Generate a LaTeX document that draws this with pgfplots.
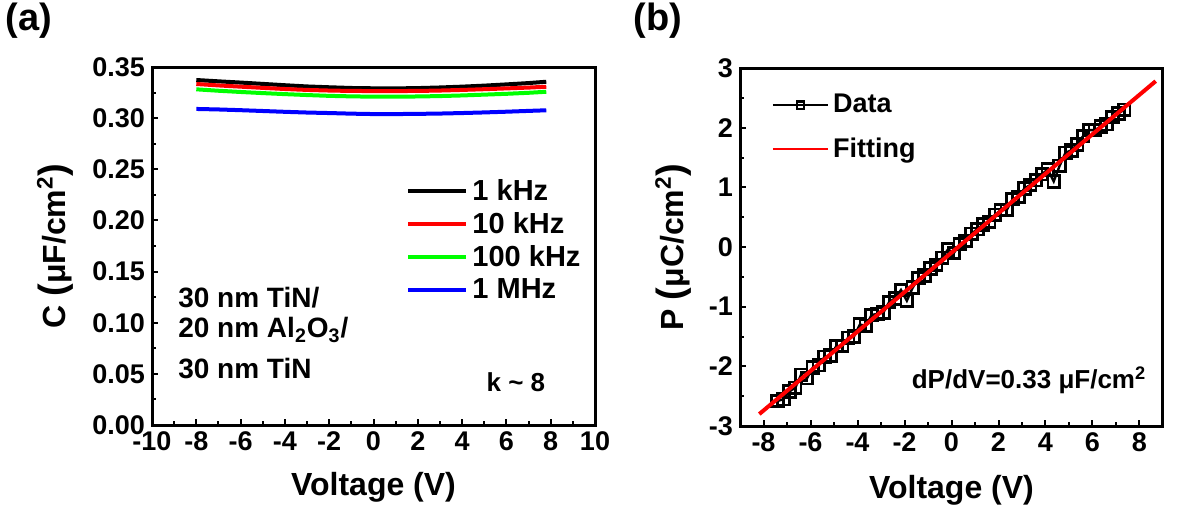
\documentclass[border=0pt]{standalone}
\usepackage{fontspec}
\setmainfont{Liberation Sans}
\usepackage{pgfplots}
\pgfplotsset{compat=1.18}

\pgfplotsset{
  panel/.style={
    scale only axis,
    axis line style={line width=1.5pt},
    tick align=inside,
    xtick pos=bottom, ytick pos=left,
    major tick length=3pt, minor tick length=2pt,
    tick style={line width=1pt, black},
    tick label style={font=\fontsize{13.5}{15}\selectfont\bfseries},
    /pgf/number format/assume math mode=true,
    label style={font=\fontsize{16}{18}\selectfont\bfseries},
    legend cell align=left,
  },
  datalegend/.style={legend image code/.code={\draw[##1, mark repeat=2, mark phase=2, mark options={scale=0.65}]
    plot coordinates {(0pt,0pt) (13.75pt,0pt) (27.5pt,0pt)};}},
  fitlegend/.style={legend image code/.code={\draw[red, line width=0.8pt] (0pt,0pt) -- (27.5pt,0pt);}},
  linelegend/.style={legend image code/.code={\draw[##1] (0pt,0pt) -- (29pt,0pt);}},
}

\begin{document}
\begin{tikzpicture}
\path[use as bounding box] (0pt,0pt) rectangle (593.5pt,-255pt);

\node[font=\fontsize{19}{21}\selectfont\bfseries] at (14.5pt,-10.5pt) {(a)};
\node[font=\fontsize{19}{21}\selectfont\bfseries] at (329pt,-10.5pt) {(b)};

% (a) capacitance vs voltage
\begin{axis}[panel, linelegend,
  at={(76pt,-212.5pt)}, anchor=south west,
  width=221.5pt, height=179pt,
  xmin=-10, xmax=10, ymin=0, ymax=0.35,
  xtick={-10,-8,...,10}, minor x tick num=1,
  ytick={0,0.05,...,0.351}, minor y tick num=1,
  yticklabel style={/pgf/number format/.cd, fixed, fixed zerofill, precision=2},
  xlabel={Voltage (V)},
  ylabel={C {\fontsize{19}{19}\selectfont(}μF/cm\textsuperscript{2}{\fontsize{19}{19}\selectfont)}},
  xlabel style={at={(axis description cs:0.5,-0.173)}, anchor=center},
  ylabel style={at={(axis description cs:-0.219,0.5)}, anchor=center},
  legend style={draw=none, fill=none, at={(0.56,0.71)}, anchor=north west,
    font=\fontsize{14.5}{16}\selectfont\bfseries, row sep=0.5pt},
]
\addplot[black, line width=2pt] coordinates {
  (-8,0.3373) (-7,0.3360) (-6,0.3348) (-5,0.3335) (-4,0.3322) (-3,0.3310)
  (-2,0.3302) (-1,0.3295) (0,0.3292) (1,0.3291) (2,0.3294) (3,0.3300)
  (4,0.3308) (5,0.3318) (6,0.3330) (7,0.3343) (7.8,0.3356)};
\addlegendentry{1 kHz}
\addplot[red, line width=2pt] coordinates {
  (-8,0.3334) (-7,0.3320) (-6,0.3308) (-5,0.3296) (-4,0.3285) (-3,0.3276)
  (-2,0.3270) (-1,0.3266) (0,0.3265) (1,0.3265) (2,0.3266) (3,0.3270)
  (4,0.3276) (5,0.3283) (6,0.3291) (7,0.3299) (7.8,0.3307)};
\addlegendentry{10 kHz}
\addplot[green, line width=2pt] coordinates {
  (-8,0.3282) (-7,0.3268) (-6,0.3256) (-5,0.3245) (-4,0.3235) (-3,0.3226)
  (-2,0.3218) (-1,0.3213) (0,0.3210) (1,0.3210) (2,0.3212) (3,0.3216)
  (4,0.3222) (5,0.3230) (6,0.3238) (7,0.3248) (7.8,0.3258)};
\addlegendentry{100 kHz}
\addplot[blue, line width=2pt] coordinates {
  (-8,0.3090) (-7,0.3085) (-6,0.3078) (-5,0.3070) (-4,0.3062) (-3,0.3055)
  (-2,0.3050) (-1,0.3044) (0,0.3040) (1,0.3040) (2,0.3042) (3,0.3045)
  (4,0.3050) (5,0.3056) (6,0.3063) (7,0.3071) (7.8,0.3077)};
\addlegendentry{1 MHz}

\node[anchor=west, inner sep=0pt, font=\fontsize{14}{15}\selectfont\bfseries] at (axis cs:-8.83,0.125) {30 nm TiN/};
\node[anchor=west, inner sep=0pt, font=\fontsize{14}{15}\selectfont\bfseries] at (axis cs:-8.83,0.0929) {20 nm Al\textsubscript{2}O\textsubscript{3}/};
\node[anchor=west, inner sep=0pt, font=\fontsize{14}{15}\selectfont\bfseries] at (axis cs:-8.83,0.0557) {30 nm TiN};
\node[font=\fontsize{13}{14}\selectfont\bfseries] at (axis cs:6.43,0.042) {k \textasciitilde{} 8};
\end{axis}

% (b) polarization vs voltage
\begin{axis}[panel,
  at={(370pt,-213pt)}, anchor=south west,
  width=211.5pt, height=179pt,
  xmin=-9, xmax=9, ymin=-3, ymax=3,
  clip marker paths=true,
  xtick={-8,-6,...,8}, minor x tick num=1,
  ytick={-3,-2,...,3}, minor y tick num=1,
  xlabel={Voltage (V)},
  ylabel={P {\fontsize{19}{19}\selectfont(}μC/cm\textsuperscript{2}{\fontsize{19}{19}\selectfont)}},
  xlabel style={at={(axis description cs:0.5,-0.179)}, anchor=center},
  ylabel style={at={(axis description cs:-0.158,0.5)}, anchor=center},
  legend style={draw=none, fill=none, at={(0.06,0.95)}, anchor=north west,
    font=\fontsize{13.5}{15}\selectfont\bfseries, row sep=7pt},
]
\addplot[black, line width=1.2pt, mark=square, mark size=2.9pt,
  mark options={line width=1.4pt}, datalegend]
  coordinates {
  (-7.40,-2.58) (-7.15,-2.55) (-6.90,-2.42) (-6.65,-2.36) (-6.40,-2.14)
  (-6.15,-2.20) (-5.90,-2.02) (-5.65,-1.98) (-5.40,-1.84) (-5.15,-1.82)
  (-4.90,-1.66) (-4.65,-1.66) (-4.40,-1.52) (-4.15,-1.50) (-3.90,-1.30)
  (-3.65,-1.32) (-3.40,-1.14) (-3.15,-1.12) (-2.90,-1.10) (-2.65,-0.92)
  (-2.40,-0.86) (-2.15,-0.72) (-1.90,-0.90) (-1.65,-0.68) (-1.40,-0.52)
  (-1.15,-0.48) (-0.90,-0.36) (-0.65,-0.30) (-0.40,-0.18) (-0.15,-0.04)
  (0.10,-0.10) (0.35,0.05) (0.60,0.10) (0.85,0.22) (1.10,0.30)
  (1.35,0.38) (1.60,0.42) (1.85,0.54) (2.10,0.62) (2.35,0.62)
  (2.60,0.80) (2.85,0.84) (3.10,0.98) (3.35,1.04) (3.60,1.12)
  (3.85,1.22) (4.10,1.30) (4.35,1.10) (4.60,1.36) (4.85,1.58)
  (5.10,1.62) (5.35,1.72) (5.60,1.86) (5.85,1.96) (6.10,1.96)
  (6.35,2.02) (6.60,2.06) (6.85,2.18) (7.10,2.24) (7.35,2.30)};
\addlegendentry{Data}
\addplot[red, line width=2pt, fitlegend]
  coordinates {(-8.18,-2.80) (8.69,2.78)};
\addlegendentry{Fitting}

\node[font=\fontsize{13}{14}\selectfont\bfseries] at (axis cs:3.3,-2.23) {dP/dV=0.33 μF/cm\textsuperscript{2}};
\end{axis}
\end{tikzpicture}
\end{document}
